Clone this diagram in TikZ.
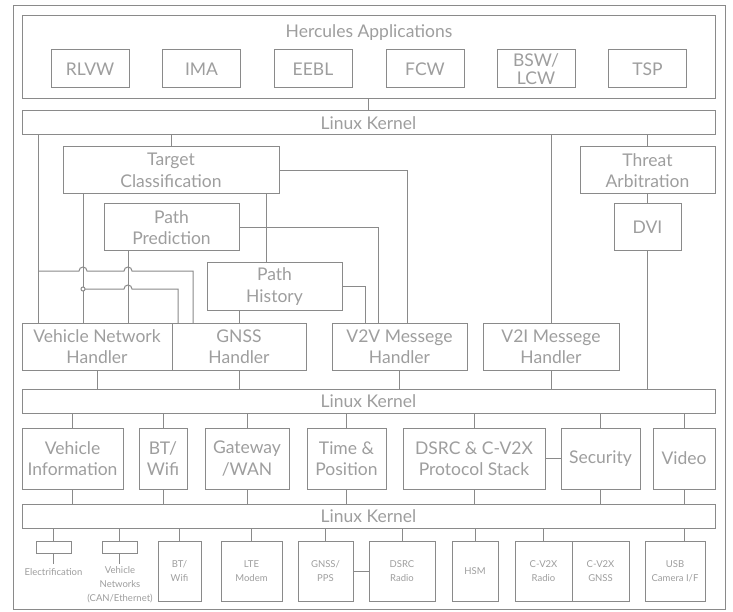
\documentclass[tikz,border=0pt]{standalone}
\usepackage{fontspec}
\setmainfont{Lato}
\definecolor{linegray}{HTML}{8A8A8A}
\definecolor{textgray}{HTML}{9E9E9E}

\begin{document}
\begin{tikzpicture}[
    x=1pt, y=-1pt,
    line width=1pt, color=linegray,
    box/.style={rectangle, draw, fill=white, inner sep=0pt, align=center, text=textgray, font=\fontsize{17.5}{21.5}\selectfont},
    layer/.style={box, minimum width=693pt, minimum height=24pt},
    app/.style={box, minimum width=78pt, minimum height=38pt},
    block/.style={box, minimum height=47pt},
    service/.style={box, minimum height=61pt},
    device/.style={box, minimum height=60pt, font=\fontsize{9.5}{14}\selectfont},
    plug/.style={rectangle, draw, fill=white, inner sep=0pt, minimum width=35pt, minimum height=12pt},
    caption/.style={inner sep=0pt, align=center, text=textgray, font=\fontsize{17.5}{21.5}\selectfont},
    smallcaption/.style={caption, font=\fontsize{9.5}{14}\selectfont}
]
\fill[white] (0,0) rectangle (733,612);
\useasboundingbox (0,0) rectangle (733,612);

% Cadre
\draw (13,6) rectangle (725,609);

% Applications
\node[box, minimum width=693pt, minimum height=83pt] (apps) at (368.5,57.5) {};
\node[caption] (appstitle) at (369,33) {Hercules Applications};
\node[app] (rlvw) at (90,69) {RLVW};
\node[app] (ima) at (201.5,69) {IMA};
\node[app] (eebl) at (313,69) {EEBL};
\node[app] (fcw) at (425,69) {FCW};
\node[app, font=\fontsize{17.5}{18}\selectfont] (bsw) at (536,69) {BSW/\\LCW};
\node[app] (tsp) at (647.5,69) {TSP};

\node[layer] (k1) at (368.5,123) {Linux Kernel};

% Fonctions
\node[block, minimum width=216pt] (tc) at (171,170.5) {Target\\Classification};
\node[block, minimum width=135pt] (ta) at (647.5,170.5) {Threat\\Arbitration};
\node[block, minimum width=135pt] (pp) at (171.5,227.5) {Path\\Prediction};
\node[block, minimum width=67pt] (dvi) at (647.5,227.5) {DVI};
\node[block, minimum width=135pt] (ph) at (274.5,286.5) {Path\\History};

% Handlers
\node[block, minimum width=150pt] (vnh) at (97,346.5) {Vehicle Network\\Handler};
\node[block, minimum width=134pt] (gnssh) at (239,346.5) {GNSS\\Handler};
\node[block, minimum width=135pt] (v2v) at (399.5,346.5) {V2V Messege\\Handler};
\node[block, minimum width=136pt] (v2i) at (551,346.5) {V2I Messege\\Handler};

\node[layer] (k2) at (368.5,401) {Linux Kernel};

% Services
\node[service, minimum width=101pt] (vinfo) at (72.5,458.5) {Vehicle\\Information};
\node[service, minimum width=48pt] (btwifi) at (163,458.5) {BT/\\Wifi};
\node[service, minimum width=84pt] (gw) at (247,458.5) {Gateway\\/WAN};
\node[service, minimum width=79pt] (timepos) at (346.5,458.5) {Time \&\\Position};
\node[service, minimum width=142pt] (stack) at (474,458.5) {DSRC \& C-V2X\\Protocol Stack};
\node[service, minimum width=79pt] (sec) at (600.5,458.5) {Security};
\node[service, minimum width=62pt] (video) at (684,458.5) {Video};

\node[layer] (k3) at (368.5,516) {Linux Kernel};

% Materiel
\node[plug] (elec) at (53.5,547) {};
\node[smallcaption] (electxt) at (53.5,572) {Electrification};
\node[plug] (vnet) at (119.5,547) {};
\node[smallcaption] (vnettxt) at (120,585) {Vehicle\\Networks\\(CAN/Ethernet)};
\node[device, minimum width=43pt] (bt) at (179.5,571) {BT/\\Wifi};
\node[device, minimum width=61pt] (lte) at (251.5,571) {LTE\\Modem};
\node[device, minimum width=55pt] (gps) at (325.5,571) {GNSS/\\PPS};
\node[device, minimum width=66pt] (radio) at (402,571) {DSRC\\Radio};
\node[device, minimum width=46pt] (hsm) at (475,571) {HSM};
\node[device, minimum width=57pt] (cvradio) at (543.5,571) {C-V2X\\Radio};
\node[device, minimum width=57pt] (cvgnss) at (600.5,571) {C-V2X\\GNSS};
\node[device, minimum width=60pt] (usb) at (675,571) {USB\\Camera I/F};

% Liaisons du haut
\coordinate (tapvnh) at (38,323);
\coordinate (tcvnh) at (83,323);
\coordinate (ppvnh) at (128,323);
\coordinate (gnssb) at (178,323);
\coordinate (gnssa) at (193,323);
\coordinate (tcph) at (266,263);
\coordinate (phv2v) at (365,323);
\coordinate (ppv2v) at (378,323);
\coordinate (tcv2v) at (407,323);
\coordinate (busa) at (38,271);
\coordinate (busb) at (83,289);

\draw (apps.south) -- (k1.north);
\draw (tapvnh) -- (tapvnh |- k1.south);
\draw (tc.north) -- (tc.north |- k1.south);
\draw (v2i.north) -- (v2i.north |- k1.south);
\draw (ta.north) -- (ta.north |- k1.south);
\draw (ta) -- (dvi);
\draw (tcvnh) -- (tcvnh |- tc.south);
\draw (tcph) -- (tcph |- tc.south);
\draw (tc.east) -| (tcv2v);
\draw (ppvnh) -- (ppvnh |- pp.south);
\draw (pp.east) -| (ppv2v);
\draw (ph.east) -| (phv2v);
\draw (gnssh.north) -- (gnssh.north |- ph.south);
\draw (busa) -- ++(41,0) arc[start angle=180, end angle=0, radius=4pt] -- ++(37,0) arc[start angle=180, end angle=0, radius=4pt] -- (gnssa |- busa) -- (gnssa);
\draw (busb) -- ++(41,0) arc[start angle=180, end angle=0, radius=4pt] -- (gnssb |- busb) -- (gnssb);
\draw[fill=white] (busb) circle[radius=2pt];

% Vers le noyau du milieu
\draw (vnh.south) -- (vnh.south |- k2.north);
\draw (gnssh.south) -- (gnssh.south |- k2.north);
\draw (v2v.south) -- (v2v.south |- k2.north);
\draw (v2i.south) -- (v2i.south |- k2.north);
\draw (dvi.south) -- (dvi.south |- k2.north);

% Services
\draw (vinfo.north) -- (vinfo.north |- k2.south) (vinfo.south) -- (vinfo.south |- k3.north);
\draw (btwifi.north) -- (btwifi.north |- k2.south) (btwifi.south) -- (btwifi.south |- k3.north);
\draw (gw.north) -- (gw.north |- k2.south) (gw.south) -- (gw.south |- k3.north);
\draw (timepos.north) -- (timepos.north |- k2.south) (timepos.south) -- (timepos.south |- k3.north);
\draw (stack.north) -- (stack.north |- k2.south) (stack.south) -- (stack.south |- k3.north);
\draw (sec.north) -- (sec.north |- k2.south) (sec.south) -- (sec.south |- k3.north);
\draw (video.north) -- (video.north |- k2.south) (video.south) -- (video.south |- k3.north);
\draw (stack.east) -- (sec.west);

% Materiel
\draw (elec.north) -- (elec.north |- k3.south) (elec.south) -- ++(0,10);
\draw (vnet.north) -- (vnet.north |- k3.south) (vnet.south) -- ++(0,10);
\draw (bt.north) -- (bt.north |- k3.south);
\draw (lte.north) -- (lte.north |- k3.south);
\draw (gps.north) -- (gps.north |- k3.south);
\draw (radio.north) -- (radio.north |- k3.south);
\draw (hsm.north) -- (hsm.north |- k3.south);
\draw (cvradio.north) -- (cvradio.north |- k3.south);
\draw (usb.north -| video.south) -- (k3.south -| video.south);
\draw (gps.east) -- (radio.west);

\end{tikzpicture}
\end{document}
